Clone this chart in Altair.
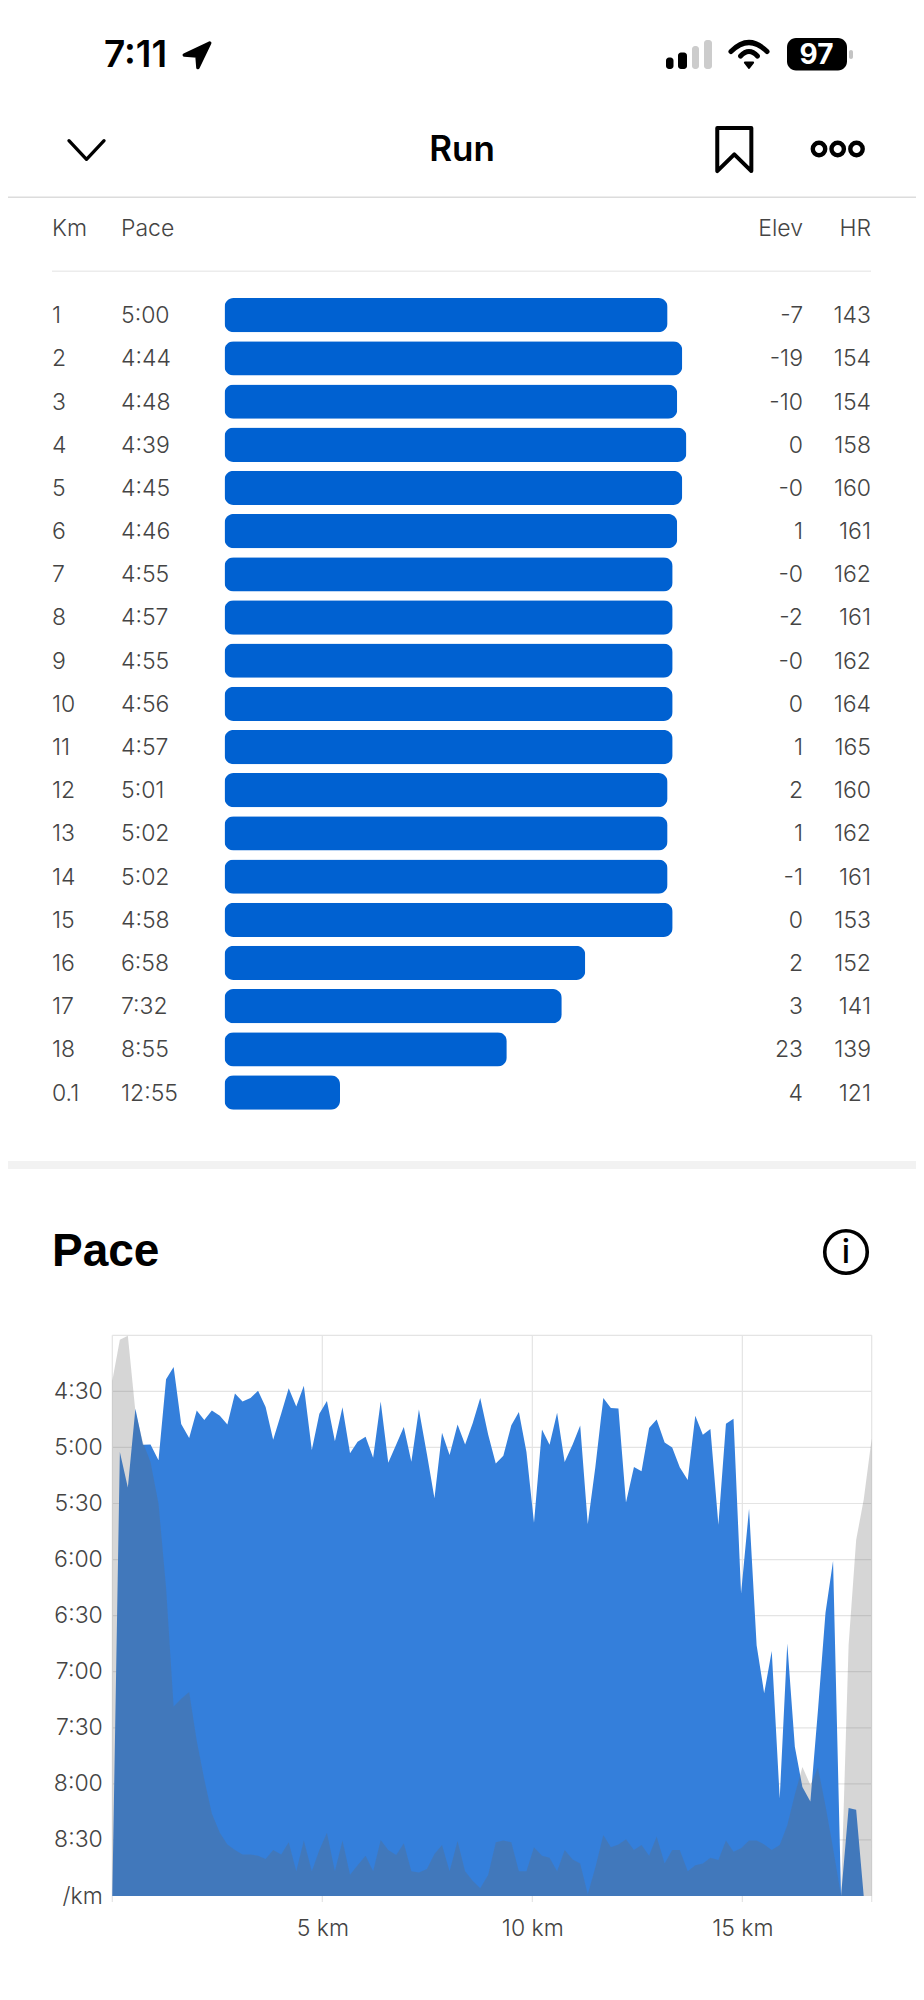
import altair as alt
import pandas as pd

# ---- split table ----
rows = [str(i) for i in range(1, 19)] + ["0.1"]
paces = ["5:00","4:44","4:48","4:39","4:45","4:46","4:55","4:57","4:55","4:56","4:57","5:01","5:02","5:02","4:58","6:58","7:32","8:55","12:55"]
bar_pct = [95.9,99.1,98.0,100,99.1,98.0,97.0,97.0,97.0,97.0,97.0,95.9,95.9,95.9,97.0,78.1,73.0,61.1,25.0]
elev_txt = ["-7","-19","-10","0","-0","1","-0","-2","-0","0","1","2","1","-1","0","2","3","23","4"]
hr = [143,154,154,158,160,161,162,161,162,164,165,160,162,161,153,152,141,139,121]

# ---- pace profile ----
km = [0.00,0.18,0.37,0.55,0.73,0.91,1.10,1.28,1.46,1.64,1.83,2.01,2.19,2.37,2.56,2.74,2.92,3.10,3.29,3.47,
      3.65,3.83,4.02,4.20,4.38,4.56,4.75,4.93,5.11,5.30,5.48,5.66,5.84,6.03,6.21,6.39,6.57,6.76,6.94,7.12,
      7.30,7.49,7.67,7.85,8.03,8.22,8.40,8.58,8.76,8.95,9.13,9.31,9.50,9.68,9.86,10.04,10.23,10.41,10.59,10.77,
      10.96,11.14,11.32,11.50,11.69,11.87,12.05,12.23,12.42,12.60,12.78,12.96,13.15,13.33,13.51,13.70,13.88,14.06,14.24,14.43,
      14.61,14.79,14.97,15.16,15.34,15.52,15.70,15.89,16.07,16.25,16.43,16.62,16.80,16.98,17.16,17.35,17.53,17.71,17.89,18.08]
pace_sec = [540,302.5,321.5,279.3,298.6,298.4,306.8,263.5,257.0,287.5,294.9,280.3,285.3,280.3,283.0,287.7,271.1,275.4,273.6,269.7,
            278.3,295.9,282.0,268.3,278.1,267.0,301.4,282.0,275.2,296.7,278.5,303.1,296.9,294.3,305.5,275.4,308.2,298.4,289.0,307.6,
            279.7,303.5,327.2,292.2,304.1,287.7,298.4,287.1,273.6,293.2,308.6,304.5,288.1,281.0,302.5,340.3,290.4,298.6,281.4,307.8,
            298.4,288.3,341.0,310.6,273.6,278.9,279.1,329.5,310.4,312.7,289.6,285.0,297.3,300.0,310.6,317.4,283.0,293.2,290.2,341.4,
            287.3,284.6,378.2,332.8,405.9,431.5,408.9,487.8,404.9,460.2,481.7,489.4,440.7,388.5,360.8,540,492.9,493.9,540,540]
elevation = [91.9,99.2,99.9,86.4,80.9,77.4,70.0,55.0,33.8,35.2,36.4,27.7,20.8,14.7,11.3,9.2,8.2,7.4,7.4,7.2,
             6.6,8.2,7.4,9.6,4.4,9.9,4.4,8.2,11.3,4.4,9.9,3.8,5.5,7.2,4.4,10.0,8.2,7.3,9.4,4.4,
             4.2,4.8,7.5,9.1,4.4,9.8,4.4,2.7,1.4,3.8,9.6,9.9,9.6,4.4,4.4,8.7,7.2,6.8,4.4,8.2,
             6.5,5.8,0.3,5.1,10.9,8.7,9.2,10.1,8.2,9.1,7.2,10.6,5.8,8.2,8.2,4.4,5.5,5.8,6.8,6.4,
             9.9,7.9,8.5,9.9,9.9,9.2,8.2,9.1,12.6,18.1,23.0,19.8,22.9,16.1,8.5,0,44.7,63.5,70.7,81.6]
grid_sec = [240,270,300,330,360,390,420,450,480,510]
grid_km = [0,5,10,15,18.08]
tick_sec = [270,300,330,360,390,420,450,480,510,540]
tick_km = [5,10,15]

table = pd.DataFrame({"row": rows, "pace": paces, "pct": bar_pct, "elev": elev_txt, "hr": hr})
profile = pd.DataFrame({"km": km, "pace": pace_sec, "elev": elevation})

FONT = "Inter"
HEAD = "Inter"
TXT = "#444444"
SIZE = 23
WT = 300
O = 8  # page margin


def X(v):
    return alt.value(v - O)


def Y(v):
    return alt.value(v - O)


def label(t, x, y, size=SIZE, color=TXT, align="left", font=FONT, weight=WT):
    return alt.Chart().mark_text(text=t, fontSize=size, color=color, align=align, baseline="middle",
                                 font=font, fontWeight=weight).encode(x=X(x), y=Y(y))


def box(x0, x1, y0, y1, color, radius=0):
    return alt.Chart().mark_rect(color=color, cornerRadius=radius).encode(x=X(x0), x2=X(x1), y=Y(y0), y2=Y(y1))


def icon(path, x, y, span, sw=3.0, fill=None, stroke="#000000"):
    kw = dict(shape=path, size=span ** 2, strokeWidth=sw, opacity=1, strokeJoin="round", strokeCap="round")
    if fill:
        kw.update(filled=True, fill=fill, stroke=stroke)
    else:
        kw.update(filled=False, stroke=stroke, fill="transparent")
    return alt.Chart().mark_point(**kw).encode(x=X(x), y=Y(y))


def ring(x, y, size, sw):
    return alt.Chart().mark_point(shape="circle", filled=False, size=size, stroke="#000000",
                                  strokeWidth=sw, opacity=1).encode(x=X(x), y=Y(y))


chrome = [
    label("7:11", 104, 56, size=37, color="#000000", font=HEAD, weight=600),
    icon("M0.82,-0.8 L-0.82,-0.03 L0.0,0.03 L0.06,0.78 Z", 197, 55.5, 31, sw=3.5, fill="#000000"),
    box(666, 673.5, 57.5, 69, "#000000", 3), box(678, 687, 52.5, 69, "#000000", 3),
    box(692, 699, 46, 69, "#cccccc", 3), box(704, 712, 40, 69, "#cccccc", 3),
    icon("M-0.88,-0.12 Q0,-1.0 0.88,-0.12 M-0.41,0.1 Q0,-0.34 0.41,0.1", 749, 54, 41, sw=5),
    icon("M-0.2,0.42 L0.2,0.42 L0,0.68 Z", 749, 54, 41, sw=2, fill="#000000"),
    box(787, 847, 38, 70.5, "#000000", 9),
    label("97", 816.5, 55.5, size=28, color="#ffffff", align="center", font=HEAD, weight=700),
    box(849, 853, 50, 59, "#c4c4c4", 2),
    icon("M-0.9,-0.48 L0,0.48 L0.9,-0.48", 86.5, 150, 39, sw=3.3),
    label("Run", 462, 150, size=35, color="#000000", align="center", font=HEAD, weight=600),
    icon("M-0.71,-0.9 L0.71,-0.9 L0.71,0.9 L0,0.2 L-0.71,0.9 Z", 734.3, 149.5, 48, sw=4),
    ring(819, 149, 154, 4.4), ring(837.7, 149, 154, 4.4), ring(856.5, 149, 154, 4.4),
    box(0, 924, 196.5, 198, "#dcdcdc"),
    label("Km", 52, 229), label("Pace", 121, 229),
    label("Elev", 803, 229, align="right"), label("HR", 871, 229, align="right"),
    box(52, 871, 270.5, 272, "#ececec"),
    box(0, 924, 1161, 1169, "#f2f2f2"),
    label("Pace", 52, 1252, size=46, color="#000000", font="Liberation Sans", weight=700),
    ring(846, 1252, 1810, 3.6),
    label("i", 846, 1253, size=33, color="#000000", align="center", font=HEAD, weight=500),
]

# ---- table ----
row_y = alt.Y("row:N", axis=None, sort=None,
              scale=alt.Scale(domain=rows, range=[285.6, 1106.1], paddingInner=0.206, paddingOuter=0.103))
tbl = alt.Chart(table)


def col(field, x, align):
    return tbl.mark_text(fontSize=SIZE, fontWeight=WT, color=TXT, align=align, baseline="middle", font=FONT, dy=1).encode(
        x=X(x), y=row_y, text=alt.Text(field + ":N"))


bars = tbl.mark_bar(color="#0061d1", cornerRadius=9).encode(
    x=alt.X("pct:Q", axis=None, scale=alt.Scale(domain=[0, 100], range=[216.5, 678.5])), y=row_y)
table_layer = alt.layer(bars, col("row", 52, "left"), col("pace", 121, "left"),
                        col("elev", 803, "right"), col("hr", 871, "right"))

# ---- pace chart ----
TOP, BOT = 1327.3, 1888.0
xs = alt.Scale(domain=[0, 18.08], range=[104.3, 863.7])
ys = alt.Scale(domain=[240, 540], range=[TOP, BOT])
H = 1976
GRID = "#e4e4e4"

x_axis = alt.Axis(values=tick_km, labelExpr="datum.value + ' km'", offset=BOT - H, title=None, grid=False,
                  domain=False, ticks=False, labelPadding=32, labelFont=FONT, labelFontSize=SIZE, labelFontWeight=WT,
                  labelColor=TXT, labelBaseline="middle", labelFlush=False)
y_axis = alt.Axis(values=tick_sec, offset=-104.3, title=None, grid=False, domain=False, ticks=False,
                  labelExpr="datum.value >= 540 ? '/km' : floor(datum.value / 60) + ':' + (datum.value % 60 == 0 ? '00' : '30')",
                  labelPadding=10, labelFont=FONT, labelFontSize=SIZE, labelFontWeight=WT, labelColor=TXT)

grid_h = alt.Chart(pd.DataFrame({"s": grid_sec})).mark_rule(color=GRID, strokeWidth=1.2).encode(
    y=alt.Y("s:Q", scale=ys, axis=y_axis), x=alt.value(104.3), x2=alt.value(863.7))
grid_v = alt.Chart(pd.DataFrame({"k": grid_km})).mark_rule(color=GRID, strokeWidth=1.2).encode(
    x=alt.X("k:Q", scale=xs, axis=x_axis), y=alt.value(TOP), y2=alt.value(BOT + 6))
pace_area = alt.Chart(profile).mark_area(color="#347fdb", opacity=1).encode(
    x=alt.X("km:Q", scale=xs, axis=x_axis),
    y=alt.Y("pace:Q", scale=ys, axis=y_axis),
    y2=alt.datum(540))
pace_layer = alt.layer(grid_h, grid_v, pace_area)

elev_area = alt.Chart(profile).mark_area(color="#676767", opacity=0.27).encode(
    x=alt.X("km:Q", scale=xs, axis=None),
    y=alt.Y("elev:Q", axis=None, scale=alt.Scale(domain=[0, 100], range=[BOT, TOP])))
elev_layer = alt.layer(elev_area)

chart = alt.layer(*chrome, table_layer, pace_layer, elev_layer).resolve_scale(
    x="independent", y="independent"
).properties(width=908, height=H, autosize="none", padding=0).configure_view(stroke=None)

chart.save("out.html", embed_options={"renderer": "svg", "actions": False})
